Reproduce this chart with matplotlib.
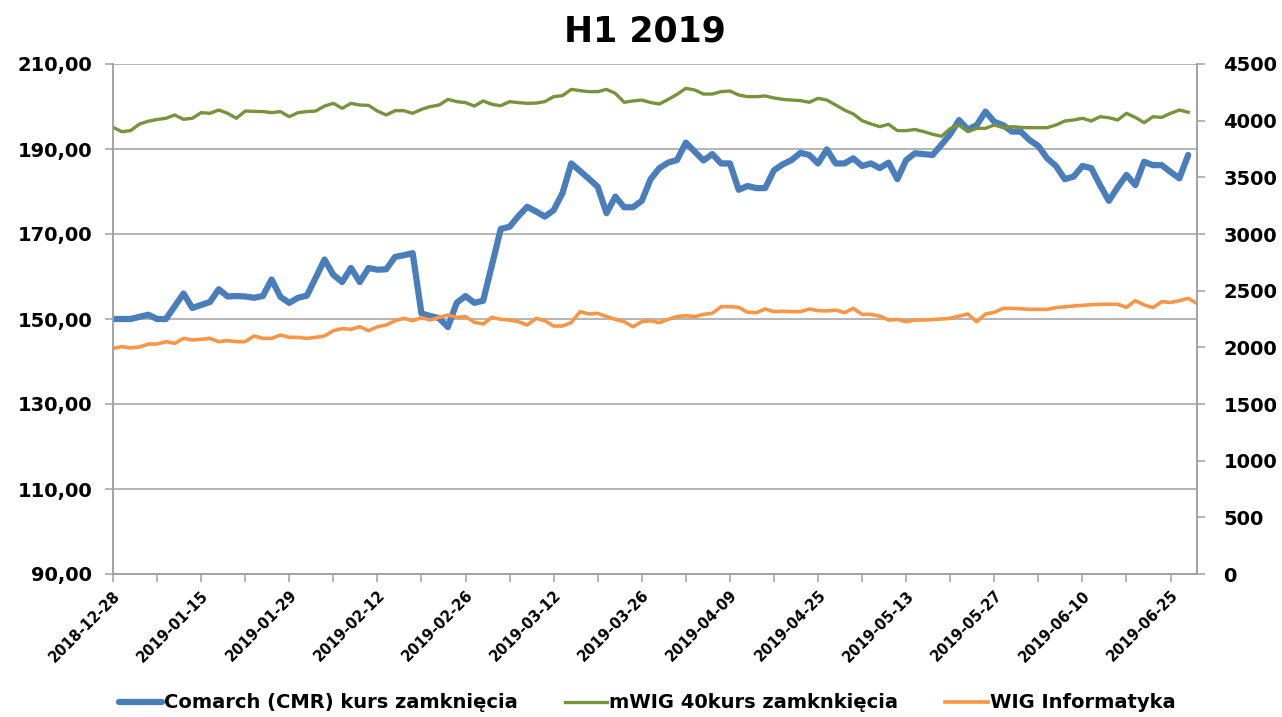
import matplotlib
matplotlib.use("Agg")
import matplotlib.pyplot as plt
from matplotlib.ticker import FuncFormatter

plt.rcParams['font.family'] = ['DejaVu Sans']
plt.rcParams['font.weight'] = 'bold'

# Comarch closing price (left axis), one value per trading day from 2018-12-28
comarch = [150, 150, 150, 150.5, 151, 150, 150, 153, 156, 152.6,
           153.3, 154, 157, 155.3, 155.4, 155.3, 155, 155.4, 159.3, 155.2,
           153.8, 155, 155.5, 159.7, 164, 160.4, 158.7, 162, 158.7, 162,
           161.6, 161.7, 164.6, 165, 165.5, 151.3, 150.7, 150.2, 148.1, 153.8,
           155.4, 153.8, 154.3, 162.7, 171.2, 171.7, 174.2, 176.4, 175.3, 174.1,
           175.6, 179.6, 186.6, 184.8, 183, 181.1, 174.9, 178.8, 176.3, 176.3,
           177.8, 182.9, 185.5, 186.8, 187.4, 191.5, 189.4, 187.3, 188.8, 186.6,
           186.6, 180.4, 181.3, 180.8, 180.8, 185, 186.4, 187.4, 189.1, 188.6,
           186.6, 189.9, 186.6, 186.6, 187.8, 186, 186.6, 185.5, 186.8, 182.9,
           187.4, 189, 188.8, 188.6, 191, 193.5, 196.8, 194.6, 195.6, 198.8,
           196.4, 195.6, 194.1, 194.1, 192.1, 190.7, 187.8, 186, 182.9, 183.5,
           186, 185.5, 181.5, 177.8, 181, 183.9, 181.5, 187, 186.2, 186.2,
           184.6, 183.1, 188.6]

# mWIG40 close (right axis)
mwig40 = [3941, 3903, 3912, 3970, 3995, 4010, 4021, 4050, 4012, 4021,
          4071, 4065, 4094, 4065, 4021, 4085, 4082, 4080, 4071, 4080,
          4035, 4071, 4080, 4085, 4129, 4153, 4109, 4153, 4138, 4135,
          4085, 4050, 4088, 4088, 4065, 4100, 4124, 4138, 4188, 4168,
          4159, 4129, 4174, 4144, 4132, 4168, 4159, 4153, 4155, 4168,
          4212, 4221, 4276, 4265, 4256, 4256, 4276, 4241, 4162, 4174,
          4182, 4160, 4147, 4188, 4232, 4285, 4271, 4235, 4235, 4256,
          4262, 4226, 4212, 4212, 4218, 4200, 4188, 4182, 4177, 4162,
          4197, 4182, 4138, 4094, 4059, 4000, 3971, 3947, 3968, 3912,
          3912, 3922, 3903, 3880, 3862, 3930, 3960, 3903, 3932, 3932,
          3962, 3938, 3947, 3941, 3938, 3938, 3938, 3962, 3997, 4006,
          4021, 3997, 4035, 4026, 4006, 4065, 4029, 3982, 4035, 4029,
          4065, 4094, 4074]

# WIG Informatyka (right axis)
wig_info = [1991, 2006, 1995, 2003, 2029, 2029, 2050, 2035, 2079, 2065,
            2071, 2079, 2050, 2059, 2050, 2050, 2100, 2079, 2079, 2109,
            2088, 2088, 2079, 2088, 2100, 2147, 2165, 2159, 2182, 2147,
            2182, 2197, 2235, 2256, 2235, 2262, 2241, 2265, 2285, 2265,
            2271, 2221, 2206, 2265, 2247, 2241, 2226, 2197, 2256, 2235,
            2188, 2188, 2218, 2315, 2294, 2300, 2271, 2247, 2226, 2182,
            2226, 2235, 2218, 2247, 2271, 2279, 2271, 2291, 2300, 2359,
            2359, 2353, 2309, 2306, 2338, 2315, 2318, 2315, 2315, 2338,
            2324, 2321, 2329, 2306, 2344, 2291, 2291, 2276, 2241, 2247,
            2226, 2241, 2241, 2245, 2250, 2256, 2276, 2294, 2226, 2294,
            2309, 2344, 2344, 2340, 2335, 2335, 2335, 2350, 2358, 2365,
            2370, 2376, 2380, 2380, 2380, 2353, 2412, 2374, 2350, 2403,
            2396, 2412, 2432, 2388]

date_labels = ['2018-12-28', '2019-01-15', '2019-01-29', '2019-02-12', '2019-02-26',
               '2019-03-12', '2019-03-26', '2019-04-09', '2019-04-25', '2019-05-13',
               '2019-05-27', '2019-06-10', '2019-06-25']

left_ticks = [90, 110, 130, 150, 170, 190, 210]
right_ticks = [0, 500, 1000, 1500, 2000, 2500, 3000, 3500, 4000, 4500]

blue = '#4A7EBB'
green = '#77933C'
orange = '#F79646'
grey = '#A0A0A0'

fig = plt.figure(figsize=(12.82, 7.17), dpi=100)
ax = fig.add_axes([113 / 1282, 1 - 574 / 717, (1197 - 113) / 1282, (574 - 64) / 717])
ax2 = ax.twinx()

l1, = ax.plot(range(len(comarch)), comarch, color=blue, lw=4.5,
              solid_capstyle='round', solid_joinstyle='round')
l2, = ax2.plot(range(len(mwig40)), mwig40, color=green, lw=2.4,
               solid_joinstyle='round')
l3, = ax2.plot(range(len(wig_info)), wig_info, color=orange, lw=2.6,
               solid_joinstyle='round')

ax.set_xlim(0, len(wig_info) - 1)
ax.set_ylim(left_ticks[0], left_ticks[-1])
ax2.set_ylim(right_ticks[0], right_ticks[-1])
ax.set_yticks(left_ticks)
ax2.set_yticks(right_ticks)
ax.yaxis.set_major_formatter(FuncFormatter(lambda v, p: f'{v:.2f}'.replace('.', ',')))

xt = list(range(0, len(wig_info), 5))
ax.set_xticks(xt)
ax.set_xticklabels([date_labels[k // 2] if k % 2 == 0 else '' for k in range(len(xt))],
                   rotation=45, ha='right', rotation_mode='anchor')

ax.grid(axis='y', color=grey, lw=1.1)
ax.set_axisbelow(True)

for a in (ax, ax2):
    for s in a.spines.values():
        s.set_color(grey)
        s.set_linewidth(1.1)
    a.spines['top'].set_visible(False)

ax.tick_params(axis='y', length=6, width=1.1, color=grey, pad=9, labelsize=14)
ax.tick_params(axis='x', length=6, width=1.1, color=grey, pad=4, labelsize=10.5)
ax2.tick_params(axis='y', length=6, width=1.1, color=grey, pad=13, labelsize=14)

fig.text(0.503, 1 - 32 / 717, 'H1 2019', ha='center', va='center',
         fontsize=25, fontweight='bold')

fig.legend([l1, l2, l3],
           ['Comarch (CMR) kurs zamknięcia', 'mWIG 40kurs zamknkięcia', 'WIG Informatyka'],
           loc='center', bbox_to_anchor=(0.505, 1 - 703 / 717), ncol=3, frameon=False,
           fontsize=14, handlelength=2.2, handletextpad=0.1, columnspacing=2.4)

fig.savefig('out.png', dpi=100)
